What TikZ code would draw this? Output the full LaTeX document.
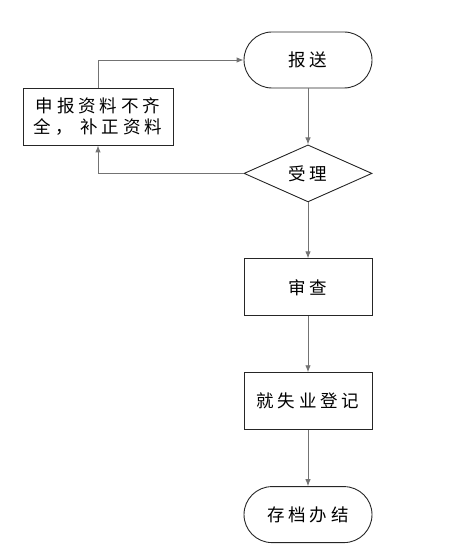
\documentclass[tikz,border=0pt]{standalone}
\usepackage{fontspec}
\setmainfont{Noto Sans CJK SC}[LetterSpace=22]
\usetikzlibrary{positioning,shapes,arrows.meta}
\tikzstyle{TermNode}=[draw=black!85, rounded corners=28pt, minimum width=128pt, minimum height=56pt]
\tikzstyle{ProcNode}=[draw=black!85, minimum width=128pt, minimum height=57pt]
\tikzstyle{DecNode}=[diamond, draw=black!85, aspect=2.25, minimum width=128pt, minimum height=57pt, inner sep=0pt]
\tikzstyle{FlowLine}=[draw=black!55, line width=0.9pt, ->, >={Latex[length=7pt,width=5.5pt]}]

\begin{document}
\begin{tikzpicture}[x=1pt, y=1pt, node distance={56pt}, font=\fontsize{17.5}{21}\selectfont, line width=0.9pt]
      \useasboundingbox (0,0) rectangle (455,-553);
      \node[TermNode] (send) at (308,-60) {报送};
      \node[DecNode] (accept) [below=of send] {受理};
      \node[ProcNode] (review) [below=of accept] {审查};
      \node[ProcNode] (register) [below=of review] {就失业登记};
      \node[TermNode] (archive) [below=of register] {存档办结};
      \node[ProcNode, minimum width=150pt, align=center] (supply) at (98,-116.5) {申报资料不齐\\全，\ 补正资料};
      \draw[FlowLine] (send) -- (accept);
      \draw[FlowLine] (accept) -- (review);
      \draw[FlowLine] (review) -- (register);
      \draw[FlowLine] (register) -- (archive);
      \draw[FlowLine] (accept.west) -| (supply.south);
      \draw[FlowLine] (supply.north) |- (send.west);
    \end{tikzpicture}
\end{document}
